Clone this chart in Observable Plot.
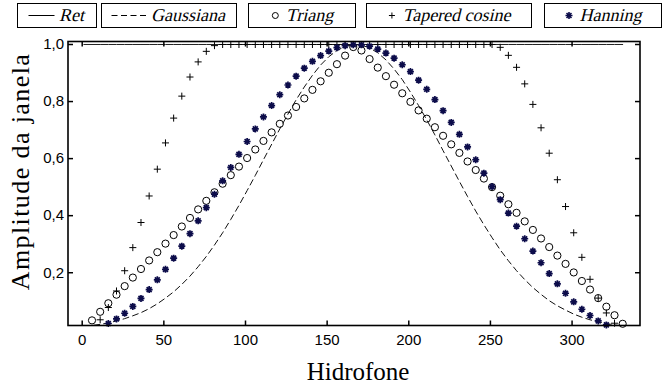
<!DOCTYPE html>
<html>
<head>
<meta charset="utf-8">
<script src="https://cdn.jsdelivr.net/npm/d3@7"></script>
<script src="https://cdn.jsdelivr.net/npm/@observablehq/plot@0.6"></script>
<style>
  body { margin: 0; background: #fff; }
  #chart { position: relative; width: 664px; height: 386px; }
  #legend { display: block; }
</style>
</head>
<body>
<div id="chart"></div>
<script>
// Hydrophone index (every fifth sensor of the array)
const hidrofone = [1, 6, 11, 16, 21, 26, 31, 36, 41, 46, 51, 56, 61, 66, 71, 76, 81, 86, 91, 96,
  101, 106, 111, 116, 121, 126, 131, 136, 141, 146, 151, 156, 161, 166, 171, 176, 181, 186, 191, 196,
  201, 206, 211, 216, 221, 226, 231, 236, 241, 246, 251, 256, 261, 266, 271, 276, 281, 286, 291, 296,
  301, 306, 311, 316, 321, 326, 331];

// Window amplitudes
const ret = [1, 1, 1, 1, 1, 1, 1, 1, 1, 1, 1, 1, 1, 1, 1, 1, 1, 1, 1, 1,
  1, 1, 1, 1, 1, 1, 1, 1, 1, 1, 1, 1, 1, 1, 1, 1, 1, 1, 1, 1,
  1, 1, 1, 1, 1, 1, 1, 1, 1, 1, 1, 1, 1, 1, 1, 1, 1, 1, 1, 1,
  1, 1, 1, 1, 1, 1, 1];
const gaussiana = [0.011, 0.015, 0.019, 0.024, 0.031, 0.039, 0.049, 0.060, 0.074, 0.091,
  0.111, 0.133, 0.159, 0.188, 0.221, 0.257, 0.297, 0.340, 0.387, 0.436,
  0.488, 0.541, 0.596, 0.650, 0.704, 0.756, 0.806, 0.851, 0.892, 0.928,
  0.957, 0.979, 0.993, 1.000, 0.998, 0.988, 0.971, 0.946, 0.914, 0.877,
  0.833, 0.786, 0.736, 0.683, 0.628, 0.574, 0.520, 0.467, 0.416, 0.368,
  0.323, 0.280, 0.242, 0.207, 0.176, 0.148, 0.124, 0.102, 0.084, 0.069,
  0.055, 0.044, 0.035, 0.028, 0.022, 0.017, 0.013];
const triang = [0.003, 0.033, 0.063, 0.093, 0.123, 0.153, 0.183, 0.213, 0.243, 0.272,
  0.302, 0.332, 0.362, 0.392, 0.422, 0.452, 0.482, 0.512, 0.542, 0.572,
  0.602, 0.632, 0.662, 0.692, 0.722, 0.751, 0.781, 0.811, 0.841, 0.871,
  0.901, 0.931, 0.961, 0.991, 0.979, 0.949, 0.919, 0.889, 0.859, 0.829,
  0.799, 0.769, 0.740, 0.710, 0.680, 0.650, 0.620, 0.590, 0.560, 0.530,
  0.500, 0.470, 0.440, 0.410, 0.380, 0.350, 0.320, 0.290, 0.260, 0.231,
  0.201, 0.171, 0.141, 0.111, 0.081, 0.051, 0.021];
const taperedCosine = [0.000, 0.009, 0.035, 0.078, 0.136, 0.207, 0.288, 0.376, 0.469, 0.563,
  0.655, 0.742, 0.819, 0.886, 0.939, 0.976, 0.996, 1.000, 1.000, 1.000,
  1.000, 1.000, 1.000, 1.000, 1.000, 1.000, 1.000, 1.000, 1.000, 1.000,
  1.000, 1.000, 1.000, 1.000, 1.000, 1.000, 1.000, 1.000, 1.000, 1.000,
  1.000, 1.000, 1.000, 1.000, 1.000, 1.000, 1.000, 1.000, 1.000, 1.000,
  1.000, 0.990, 0.962, 0.920, 0.862, 0.790, 0.708, 0.619, 0.526, 0.432,
  0.340, 0.254, 0.177, 0.111, 0.059, 0.023, 0.003];
const hanning = [0.000, 0.003, 0.011, 0.022, 0.038, 0.058, 0.082, 0.110, 0.141, 0.175,
  0.212, 0.251, 0.293, 0.337, 0.382, 0.428, 0.475, 0.522, 0.569, 0.615,
  0.660, 0.704, 0.746, 0.786, 0.824, 0.858, 0.889, 0.917, 0.941, 0.961,
  0.977, 0.989, 0.996, 0.999, 0.999, 0.994, 0.984, 0.970, 0.952, 0.929,
  0.905, 0.875, 0.843, 0.807, 0.768, 0.727, 0.685, 0.641, 0.596, 0.549,
  0.502, 0.456, 0.409, 0.363, 0.319, 0.276, 0.235, 0.197, 0.161, 0.128,
  0.098, 0.072, 0.050, 0.031, 0.017, 0.007, 0.001];

const seriesNames = ["Ret", "Gaussiana", "Triang", "Tapered cosine", "Hanning"];
const xTicks = [0, 50, 100, 150, 200, 250, 300];
const yTicks = [0.2, 0.4, 0.6, 0.8, 1.0];

const xDomain = [-8.7, 341.6];
const yDomain = [0.015, 1.0105];
const starColor = "#0c0c4a";

// Marker shapes: eight-spoke asterisk and short inward tick marks
const asterisk = {
  draw(ctx, size) {
    const r = Math.sqrt(size / Math.PI), d = r * Math.SQRT1_2;
    ctx.moveTo(-r, 0); ctx.lineTo(r, 0);
    ctx.moveTo(0, -r); ctx.lineTo(0, r);
    ctx.moveTo(-d, -d); ctx.lineTo(d, d);
    ctx.moveTo(-d, d); ctx.lineTo(d, -d);
  }
};
const tick = (dx, dy) => ({draw(ctx) { ctx.moveTo(0, 0); ctx.lineTo(dx, dy); }});

const idx = d3.range(hidrofone.length);
const visible = (ys) => idx.filter(i => ys[i] >= yDomain[0] && ys[i] <= yDomain[1]);
const fmt = d => d.toFixed(1).replace(".", ",");
const tickFont = {fontSize: 15, fontFamily: "Liberation Sans, Arial, sans-serif"};
const titleFont = "Liberation Serif, serif";

const plot = Plot.plot({
  width: 664,
  height: 352,
  marginTop: 7,
  marginBottom: 61,
  marginLeft: 67.5,
  marginRight: 24.5,
  style: {background: "white", color: "black", overflow: "visible", display: "block"},
  x: {domain: xDomain, axis: null},
  y: {domain: yDomain, axis: null},
  marks: [
    Plot.line(idx, {x: i => hidrofone[i], y: i => ret[i], stroke: "#222", strokeWidth: 1, clip: true}),
    Plot.line(idx, {x: i => hidrofone[i], y: i => gaussiana[i], stroke: "#111", strokeWidth: 1,
      strokeDasharray: "6,4", clip: true}),
    Plot.dot(visible(triang), {x: i => hidrofone[i], y: i => triang[i], symbol: "circle", r: 3.6,
      fill: "none", stroke: "black", strokeWidth: 1}),
    Plot.dot(visible(taperedCosine), {x: i => hidrofone[i], y: i => taperedCosine[i], symbol: "plus", r: 2.4,
      stroke: "black", strokeWidth: 1}),
    Plot.dot(visible(hanning), {x: i => hidrofone[i], y: i => hanning[i], symbol: asterisk, r: 3.5,
      fill: "none", stroke: starColor, strokeWidth: 1.7}),
    Plot.frame({stroke: "black", strokeWidth: 1.6}),
    Plot.dot(xTicks, {x: d => d, frameAnchor: "bottom", symbol: tick(0, -5), stroke: "black", fill: "none"}),
    Plot.dot(xTicks, {x: d => d, frameAnchor: "top", symbol: tick(0, 5), stroke: "black", fill: "none"}),
    Plot.dot(yTicks, {y: d => d, frameAnchor: "left", symbol: tick(5, 0), stroke: "black", fill: "none"}),
    Plot.dot(yTicks, {y: d => d, frameAnchor: "right", symbol: tick(-5, 0), stroke: "black", fill: "none"}),
    Plot.axisX(xTicks, {tickSize: 0, tickPadding: 9, label: null, ...tickFont}),
    Plot.axisY(yTicks, {tickSize: 0, tickPadding: 4, label: null, tickFormat: fmt, ...tickFont}),
    Plot.text(["Hidrofone"], {text: d => d, frameAnchor: "bottom", lineAnchor: "middle", textAnchor: "middle",
      dy: 46, dx: 4, fontSize: 25, fontFamily: titleFont}),
    Plot.text(["Amplitude da janela"], {text: d => d, frameAnchor: "left", lineAnchor: "middle", textAnchor: "middle",
      rotate: -90, dx: -47.5, dy: -12, fontSize: 26, fontFamily: titleFont})
  ]
});
// slightly wider tracking on the vertical title
d3.select(plot).selectAll("text").filter(function() { return this.textContent === "Amplitude da janela"; })
  .attr("letter-spacing", "1.4px");

// Legend row of boxed entries, drawn above the chart
const legendBoxes = [
  {left: 17, width: 80, sample: 26}, {left: 101, width: 136, sample: 35}, {left: 248, width: 108, sample: 12},
  {left: 366, width: 166, sample: 12}, {left: 544, width: 118, sample: 12}
];
const legendSvg = d3.create("svg").attr("id", "legend").attr("width", 664).attr("height", 34);
const entryH = 25, entryY = 3, cy = entryY + entryH / 2, gap = 6;
seriesNames.forEach((name, i) => {
  const b = legendBoxes[i];
  const g = legendSvg.append("g");
  g.append("rect").attr("x", b.left + 0.5).attr("y", entryY + 0.5).attr("width", b.width - 1).attr("height", entryH - 1)
    .attr("fill", "white").attr("stroke", "black");
  const sample = g.append("g").attr("class", "sample");
  if (i === 0) {
    sample.append("line").attr("x1", 0).attr("x2", b.sample).attr("y1", cy).attr("y2", cy).attr("stroke", "black");
  } else if (i === 1) {
    sample.append("line").attr("x1", 0).attr("x2", b.sample).attr("y1", cy).attr("y2", cy)
      .attr("stroke", "black").attr("stroke-dasharray", "6,3.5");
  } else if (i === 2) {
    sample.append("circle").attr("cx", 6).attr("cy", cy).attr("r", 3).attr("fill", "none").attr("stroke", "black");
  } else if (i === 3) {
    sample.append("path").attr("d", `M3,${cy}H9M6,${cy - 3}V${cy + 3}`).attr("stroke", "black");
  } else {
    const r = 3.5, d = r * Math.SQRT1_2;
    sample.append("path").attr("d", `M${6 - r},${cy}H${6 + r}M6,${cy - r}V${cy + r}` +
      `M${6 - d},${cy - d}L${6 + d},${cy + d}M${6 - d},${cy + d}L${6 + d},${cy - d}`)
      .attr("stroke", starColor).attr("stroke-width", 1.6);
  }
  // slanted serif label
  g.append("g").attr("class", "label").append("text").text(name)
    .attr("font-family", titleFont).attr("font-size", 18).attr("dy", "0.33em");
});
const chart = document.getElementById("chart");
chart.appendChild(legendSvg.node());
chart.appendChild(plot);
// center each legend entry once its text can be measured
legendSvg.selectAll(":scope > g").each(function(_, i) {
  const g = d3.select(this), b = legendBoxes[i];
  const tw = g.select("text").node().getComputedTextLength();
  const start = b.left + (b.width - (b.sample + gap + tw)) / 2;
  g.select(".sample").attr("transform", `translate(${start},0)`);
  g.select(".label").attr("transform", `translate(${start + b.sample + gap},${cy}) skewX(-14)`);
});
</script>
</body>
</html>
